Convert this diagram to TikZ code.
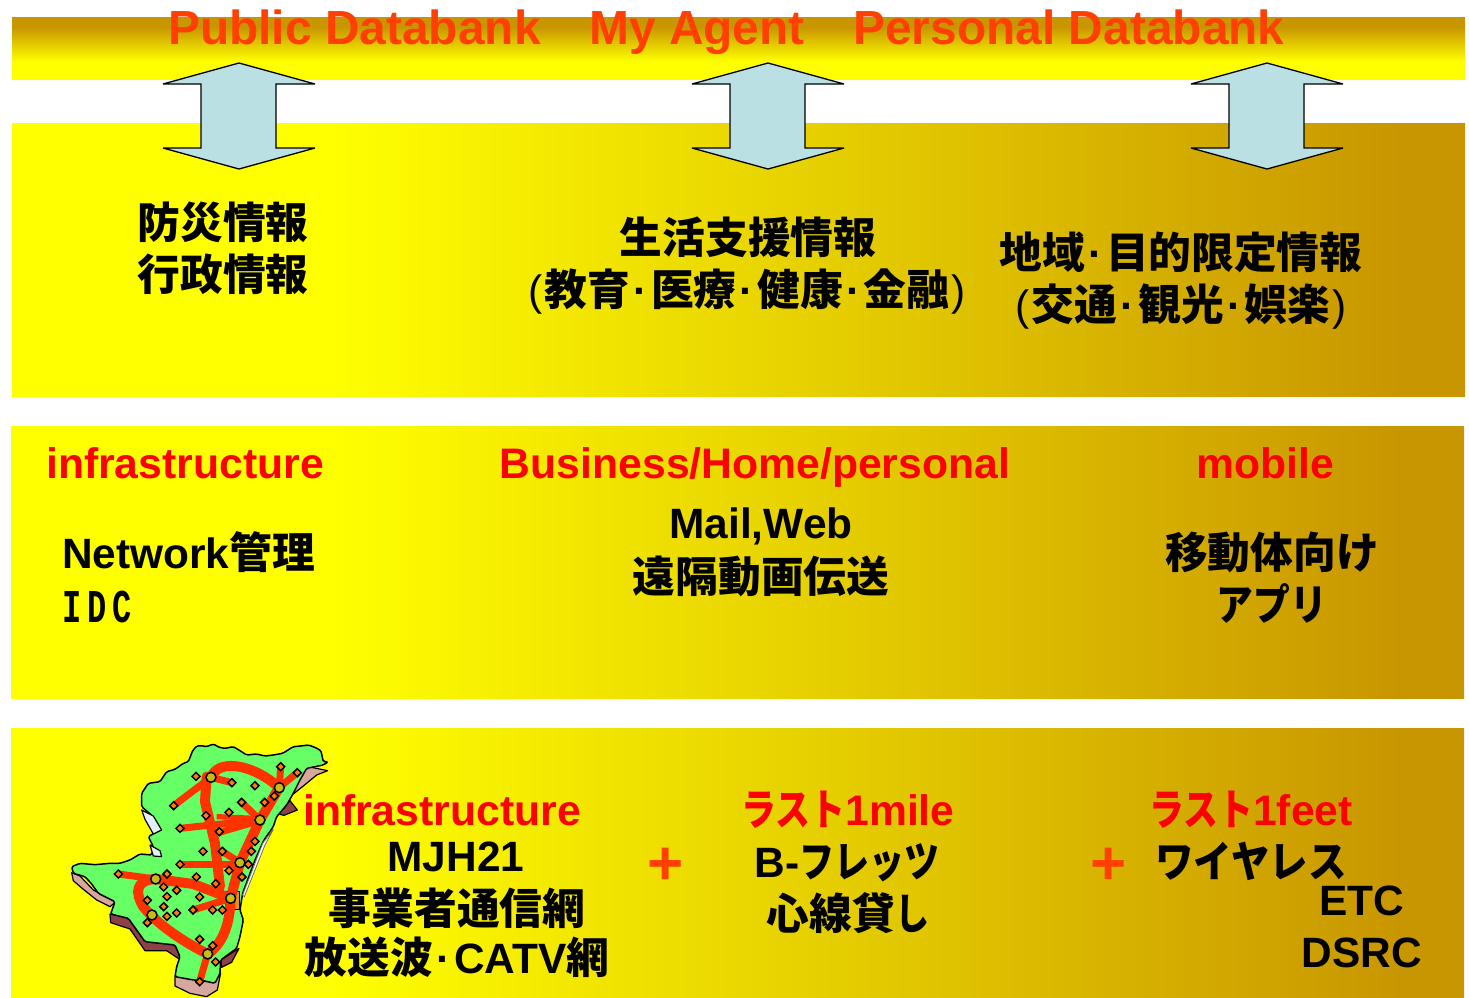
\documentclass[tikz,border=0pt]{standalone}
\usepackage{fontspec}
\setmainfont{Liberation Sans}
\newfontfamily\cjk[Scale=1.008]{Noto Sans CJK JP}
\newfontfamily\monoidc{Liberation Mono}
\newcommand{\J}[1]{{\cjk #1}}
\newcommand{\K}[2]{\scalebox{#1}[1]{\cjk #2}}
\newcommand{\Dt}{\makebox[21pt]{\rmfamily ·}}
\newcommand{\Lp}{{\mdseries(}\kern2pt}
\newcommand{\Rp}{\kern2pt{\mdseries)}}
\definecolor{topred}{HTML}{FF4000}
\definecolor{lblred}{HTML}{FF0000}
\definecolor{netred}{HTML}{FF3300}
\definecolor{arrowfill}{HTML}{BBE0E3}
\definecolor{landgreen}{HTML}{66FF66}
\definecolor{coastpink}{HTML}{D8A8A0}
\definecolor{coastdark}{HTML}{8C4048}
\definecolor{coastice}{HTML}{E4F0F8}
\definecolor{stationfill}{HTML}{C8BC10}
\pgfdeclarehorizontalshading{bandshade}{100bp}{rgb(0bp)=(1,1,0); rgb(36bp)=(1,1,0); rgb(73bp)=(.784,.588,0); rgb(100bp)=(.784,.588,0)}
\pgfdeclareverticalshading{topshade}{100bp}{rgb(0bp)=(1,1,0); rgb(39bp)=(1,1,0); rgb(67bp)=(.784,.588,0); rgb(100bp)=(.784,.588,0)}
\tikzset{
  band/.style={shading=bandshade,draw=none},
  txt/.style={anchor=base,inner sep=0pt,text=black,font=\bfseries\fontsize{42.4}{48}\selectfont},
  lbl/.style={txt,text=lblred,font=\bfseries\fontsize{42.7}{48}\selectfont},
  head/.style={anchor=base,inner sep=0pt,text=topred,font=\bfseries\fontsize{47.9}{52}\selectfont},
  plusmark/.style={anchor=center,inner sep=0pt,text=topred,font=\bfseries\fontsize{62}{62}\selectfont},
  updown/.style={draw=black,line width=1.3pt,fill=arrowfill,line join=miter,miter limit=2},
  road/.style={draw=netred,line width=10pt,line cap=round,line join=round},
  roadthin/.style={draw=netred,line width=7pt,line cap=butt},
  coast/.style={draw=black,line width=1.2pt,line join=round}
}
\begin{document}
\begin{tikzpicture}[x=1pt,y=-1pt]
\useasboundingbox (0,0) rectangle (1469,997);
\fill[white] (0,0) rectangle (1469,997);
\path[shading=topshade] (12,17) rectangle (1465,79);
\path[band] (12,123) rectangle (1465,396.5);
\path[band] (11,426) rectangle (1464,698.5);
\path[band] (11,728) rectangle (1464,997);

% double arrows
\foreach \c in {239,768,1267}{
  \draw[updown] (\c,63) -- (\c+76,84) -- (\c+37,84) -- (\c+37,148) -- (\c+76,148) -- (\c,169)
     -- (\c-76,148) -- (\c-38,148) -- (\c-38,84) -- (\c-76,84) -- cycle;
}

% header
\node[head] (pub) at (354.5,44) {Public Databank};
\node[head] (agent) at (697,44) {My Agent};
\node[head] (pers) at (1069,44) {Personal Databank};

% first band
\node[txt] (a1) at (223,238) {\J{防災情報}};
\node[txt] (a2) at (223,290) {\J{行政情報}};
\node[txt] (b1) at (748,253) {\J{生活支援情報}};
\node[txt] (b2) at (747,305) {\Lp\J{教育}\Dt\J{医療}\Dt\J{健康}\Dt\J{金融}\Rp};
\node[txt] (c1) at (1181,268) {\J{地域}\Dt\J{目的限定情報}};
\node[txt] (c2) at (1181,320) {\Lp\J{交通}\Dt\J{観光}\Dt\J{娯楽}\Rp};

% second band
\node[lbl] (d0) at (185,478) {infrastructure};
\node[lbl] (e0) at (755,478) {Business/Home/personal};
\node[lbl] (f0) at (1265,478) {mobile};
\node[txt,anchor=base west] (d1) at (62,568) {Network\J{管理}};
\node[txt,anchor=base west,xscale=.68,font=\monoidc\bfseries\fontsize{47}{48}\selectfont] (d2) at (60,622) {\makebox[36.4pt]{I}\makebox[36.4pt]{D}\makebox[36.4pt]{C}};
\node[txt] (e1) at (761,538) {Mail,Web};
\node[txt] (e2) at (761,592) {\J{遠隔動画伝送}};
\node[txt] (f1) at (1272,568) {\J{移動体向け}};
\node[txt] (f2) at (1272,620) {\K{.86}{アプリ}};

% map
\begin{scope}[shift={(60,730)},x=.3333pt,y=-.3333pt]
  % coast ribbons under the land
  \draw[coast,fill=coastpink] (35,428) -- (60,438) -- (100,480) -- (168,515) -- (150,530) -- (110,510) -- (70,478) -- (40,452) -- cycle;
  \draw[coast,fill=coastdark] (150,552) -- (205,562) -- (258,632) -- (350,645) -- (362,690) -- (320,662) -- (255,662) -- (210,597) -- (152,578) -- cycle;
  \draw[coast,fill=coastpink] (345,738) -- (400,748) -- (462,758) -- (482,728) -- (472,780) -- (440,800) -- (390,790) -- (345,768) -- cycle;
  \draw[coast,fill=coastdark] (482,690) -- (537,655) -- (515,697) -- (485,712) -- cycle;
  \draw[coast,fill=coastpink] (690,170) -- (745,110) -- (803,122) -- (770,135) -- (730,168) -- (700,192) -- cycle;
  \draw[coast,fill=coastdark] (648,250) -- (690,212) -- (712,240) -- (672,256) -- cycle;
  % land
  \draw[draw=black,line width=1.5pt,line join=round,fill=landgreen,rounded corners=1.5pt]
    (398,62) -- (410,48) -- (425,47) -- (440,50) -- (460,42) -- (478,52) -- (495,55) -- (520,50) -- (540,62) -- (560,75) -- (590,72) -- (615,78) -- (640,75) -- (668,70) -- (700,50) -- (722,48) -- (745,45)
    -- (765,52) -- (783,62) -- (790,95) -- (805,95) -- (790,105) -- (740,115) -- (720,150) -- (700,190) -- (680,225)
    -- (650,260) -- (640,290) -- (612,330) -- (585,390) -- (548,490) -- (540,540) -- (550,570)
    -- (540,620) -- (530,655) -- (482,690) -- (480,730) -- (465,760) -- (430,752) -- (400,750) -- (345,740)
    -- (350,710) -- (360,680) -- (345,645) -- (300,640) -- (255,635) -- (230,600) -- (205,565) -- (152,552) -- (165,515) -- (115,490)
    -- (95,462) -- (75,440) -- (40,430) -- (35,410) -- (60,400) -- (105,404) -- (150,400) -- (180,400) -- (210,390) -- (240,372) -- (275,375) -- (280,350)
    -- (265,320) -- (300,300) -- (280,260) -- (245,230) -- (245,190) -- (265,160) -- (300,155) -- (320,125)
    -- (345,118) -- (370,100) -- (385,95) -- cycle;
  % ice patches and shore line on the land edge
  \draw[coast,fill=coastice] (245,240) -- (280,258) -- (305,300) -- (280,312) -- (255,268) -- cycle;
  \draw[coast,fill=coastice] (270,345) -- (300,362) -- (305,380) -- (280,378) -- cycle;
  \draw[draw=black!60,line width=.8pt,fill=white] (548,495) -- (608,340) -- (640,298) -- (615,345) -- (553,500) -- cycle;
  % orange block
  \draw[draw=black,line width=1pt,fill=orange!85!yellow!80!brown] (497,485) rectangle (540,540);
  % network
  \draw[road] (455,140) .. controls (470,95) and (560,90) .. (658,172);
  \draw[road] (658,172) -- (600,270) -- (540,398) -- (512,505) .. controls (510,580) and (490,640) .. (443,672);
  \draw[road] (443,672) .. controls (360,630) and (290,580) .. (250,530) .. controls (225,490) and (225,450) .. (287,447);
  \draw[road] (287,447) -- (400,462) -- (512,505);
  \draw[road] (440,140) -- (435,215) -- (465,340) -- (480,470);
  \draw[roadthin] (341,227) -- (453,142);
  \draw[roadthin] (453,142) -- (516,158);
  \draw[roadthin] (662,110) -- (658,172);
  \draw[roadthin] (712,128) -- (658,172);
  \draw[roadthin] (360,295) -- (600,270);
  \fill[netred] (470,252) -- (600,258) -- (600,272) -- (470,268) -- cycle;
  \fill[netred] (478,298) -- (600,262) -- (600,282) -- (478,318) -- cycle;
  \draw[roadthin] (545,217) -- (600,270);
  \draw[roadthin] (360,403) -- (540,403);
  \draw[roadthin] (175,432) -- (287,447);
  \draw[roadthin] (399,540) -- (512,505);
  \draw[roadthin] (419,755) -- (443,672);
  \draw[roadthin] (487,364) -- (540,398);
  \draw[roadthin] (507,422) -- (540,398);
  % small stations
  \foreach \x/\y in {408/139,516/158,585/167,662/110,712/128,341/227,545/217,614/217,643/198,438/257,507/247,360/295,478/305,585/334,429/364,487/364,574/364,360/403,565/403,321/432,507/422,546/441,175/432,409/441,467/461,311/471,350/481,321/500,419/501,262/511,311/530,399/540,458/540,487/540,350/549,321/559,262/578,419/628,458/647,467/696,419/755}{
    \draw[draw=black,line width=1.5pt,fill=orange] (\x-12,\y) -- (\x,\y-12) -- (\x+12,\y) -- (\x,\y+12) -- cycle;
  }
  % large stations
  \foreach \x/\y in {453/142,658/173,600/270,540/398,287/447,276/555,512/505,443/672}{
    \draw[draw=black,line width=1.5pt,fill=stationfill] (\x,\y) circle (15);
  }
\end{scope}

% third band
\node[lbl] (g0) at (442,825) {infrastructure};
\node[txt] (g1) at (456,871) {MJH21};
\node[txt] (g2) at (457,924) {\J{事業者通信網}};
\node[txt] (g3) at (457,973) {\J{放送波}\Dt CATV\J{網}};
\node[plusmark] (p1) at (666,866.5) {+};
\node[lbl] (h0) at (848,825) {\K{.81}{ラスト}1mile};
\node[txt] (h1) at (847,877) {B-\K{.82}{フレッツ}};
\node[txt] (h2) at (848,929) {\J{心線貸}\K{.8}{し}};
\node[plusmark] (p2) at (1109,866.5) {+};
\node[lbl] (k0) at (1251,825) {\K{.81}{ラスト}1feet};
\node[txt] (k1) at (1251,877) {\K{.9}{ワイヤレス}};
\node[txt] (k2) at (1362,915) {ETC};
\node[txt] (k3) at (1362,967) {DSRC};
\end{tikzpicture}
\end{document}
